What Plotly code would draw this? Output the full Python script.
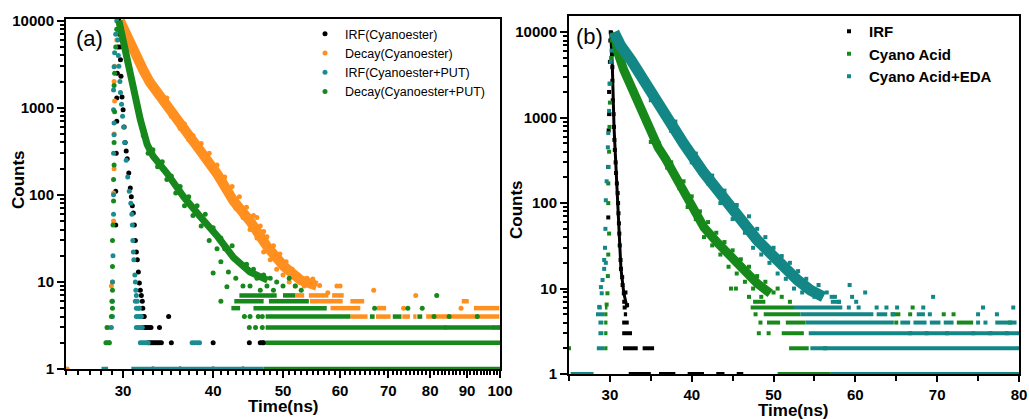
import math
import plotly.graph_objects as go

BLACK = "#000000"
ORANGE = "#ff8f1f"
TEAL_A = "#1b8d92"
GREEN_A = "#17881c"
GREEN_B = "#17891b"
TEAL_B = "#138686"

# ================= Panel (a) data (time ns, counts) =================
irf_a_pts = [
    (29.3, 45), (29.3, 110), (29.35, 300), (29.4, 700), (29.4, 1300), (29.45, 2500),
    (29.5, 5000), (29.55, 8000),
    (29.6, 10000), (29.65, 7000), (29.7, 5000), (29.75, 3560), (29.8, 2300), (29.9, 1330),
    (30.0, 950), (30.1, 600), (30.2, 400), (30.3, 320), (30.4, 260), (30.55, 178),
    (30.7, 120), (30.8, 95), (30.9, 75), (31.0, 62), (31.1, 45), (31.2, 30), (31.3, 22),
    (31.4, 18), (31.5, 13), (31.6, 9.7), (31.7, 8), (31.8, 7), (31.9, 6), (31.95, 5),
    (32.0, 4), (32.1, 4), (34.7, 4),
    (32.0, 3), (32.2, 3), (32.4, 3), (32.6, 3), (32.8, 3), (33.7, 3),
    (32.5, 2), (32.7, 2), (32.9, 2), (33.1, 2), (33.3, 2), (33.5, 2), (33.7, 2), (33.9, 2),
    (35.0, 2), (40.0, 2), (44.9, 2), (46.5, 2), (46.8, 2), (47.0, 2),
    (33.0, 1), (36.0, 1), (40.0, 1), (44.0, 1),
]
irf_a_bands = {}

orange_a_ribbon = [
    (29.7, 10000), (30.3, 7000), (31.0, 4300), (32.0, 2700), (32.7, 1950), (34.5, 1100),
    (36.4, 560), (38.4, 320), (40.6, 170), (42.7, 85), (45.0, 50), (47.6, 25),
    (50.2, 15), (52.9, 10.5), (55.7, 9),
]
orange_a_pts = [
    (28.7, 3), (28.9, 9), (29.0, 10), (29.1, 50), (29.1, 105), (29.15, 200), (29.15, 500),
    (29.2, 1200), (29.15, 2000), (29.2, 3000), (29.4, 6000),
    (31.5, 3900), (32.0, 2400), (32.5, 2300), (33.0, 1700), (33.5, 1600), (34.0, 1150),
    (34.5, 1300), (35.0, 800), (35.5, 850), (36.0, 580), (36.5, 650), (37.0, 430),
    (37.5, 480), (38.0, 330), (38.5, 390), (39.0, 250), (39.5, 300), (40.0, 190),
    (40.5, 220), (41.0, 140), (41.5, 160), (42.0, 100), (42.5, 125), (43.0, 70),
    (43.5, 95), (44.0, 55), (44.5, 72), (45.0, 40), (45.5, 58), (46.0, 32), (46.0, 55),
    (46.5, 44), (47.0, 22), (47.0, 38), (47.5, 33), (48.0, 18), (48.5, 26), (49.0, 14),
    (49.5, 21), (50.0, 12), (50.5, 17), (51.0, 10), (51.5, 14), (52.0, 9), (52.5, 12),
    (53.5, 9), (54.0, 11), (55.0, 10.8), (56.2, 9.1), (57.7, 7.5), (59.4, 9), (60.0, 9),
    (66.8, 8), (76.4, 7), (73.5, 5), (88.3, 5), (84.0, 3), (98.0, 3), (99.5, 3), (25.1, 1),
]
orange_a_bands = {
    4: [(62, 65.5), (67.3, 70.5), (73.2, 75), (75.8, 76.6), (79, 99.8)],
    5: [(58.2, 64), (67.5, 69.5), (92, 99.8)],
    6: [(54.5, 60.5), (62, 64.8), (88.5, 90.5)],
    7: [(52, 53.5), (54.3, 57.8), (58.5, 60.7)],
}

teal_a_pts = [
    (28.5, 2), (28.7, 2), (28.9, 3), (29.0, 4), (29.0, 6), (29.0, 10), (29.05, 20),
    (29.1, 60), (29.1, 100), (29.1, 300), (29.15, 490), (29.15, 670), (29.1, 950),
    (29.1, 1600), (29.15, 2960), (29.2, 4300), (29.3, 7000),
    (29.4, 10000), (29.45, 8000), (29.5, 6000), (29.55, 4000), (29.6, 3000), (29.7, 2000),
    (29.75, 1500), (29.85, 1100), (29.95, 800), (30.05, 600), (30.15, 400), (30.3, 250),
    (30.45, 160), (30.6, 110), (30.75, 80), (30.85, 60), (30.9, 45), (30.95, 30),
    (31.0, 22), (31.05, 18), (31.15, 12), (31.2, 10), (31.25, 8), (31.3, 7),
    (31.2, 6), (31.4, 6), (31.3, 5), (31.5, 5), (31.6, 5),
    (31.3, 4), (31.5, 4), (31.7, 4), (31.8, 4),
    (31.3, 3), (31.5, 3), (31.7, 3), (31.9, 3),
    (31.7, 2), (31.9, 2), (32.1, 2), (32.3, 2), (32.5, 2), (37.4, 2), (37.7, 2), (38.0, 2), (38.3, 2),
]
teal_a_bands = {1: [(28.0, 28.6), (30.8, 47.0)]}

green_a_ribbon = [
    (29.6, 10000), (30.0, 6000), (30.4, 3560), (31.0, 1490), (31.7, 730), (32.4, 380),
    (33.0, 280), (34.5, 178), (36.4, 95), (38.4, 56), (40.6, 33), (42.7, 19),
    (45.0, 13), (47.6, 10.5),
]
green_a_pts = [
    (28.4, 2), (28.5, 3), (28.7, 2), (28.9, 4), (29.0, 5), (28.95, 6), (29.0, 8),
    (29.0, 15), (29.0, 30), (29.05, 45), (29.1, 85), (29.1, 150), (29.15, 220),
    (29.15, 400), (29.2, 900), (29.15, 1800), (29.2, 2500), (29.3, 5000), (29.4, 8000),
    (32.0, 480), (32.5, 300), (33.0, 330), (33.5, 210), (34.0, 240), (34.5, 150),
    (35.0, 165), (35.5, 105), (36.0, 125), (36.5, 75), (37.0, 95), (37.5, 58), (38.0, 75),
    (38.5, 44), (39.0, 60), (39.5, 30), (40.0, 42), (40.0, 12.7), (40.5, 24), (41.0, 32),
    (41.0, 17), (41.5, 24), (41.8, 8.8), (42.0, 13), (42.5, 26), (43.0, 11), (43.5, 17),
    (44.0, 9), (44.5, 16), (45.0, 9), (45.5, 14), (46.0, 11), (46.5, 8), (47.0, 12),
    (47.5, 9), (48.0, 11), (48.5, 8), (49.0, 10), (50.0, 9), (51.0, 11), (52.0, 9),
    (53.0, 8), (81.7, 7), (67.0, 5), (74.5, 5), (78.0, 5), (41.0, 6),
    (44.2, 4), (45.0, 4), (46.2, 4), (46.8, 4), (81.0, 4), (85.0, 4), (93.0, 4),
    (44.9, 3), (45.8, 3), (46.8, 3),
]
green_a_bands = {
    1: [(47.0, 100)],
    2: [(47.3, 100)],
    3: [(47.3, 100)],
    4: [(47.3, 62), (66, 67), (71, 73), (76.8, 78)],
    5: [(42.4, 43.6), (45.5, 57.5)],
    6: [(42.8, 47), (47.8, 54.3)],
    7: [(43.5, 49), (50, 52)],
}

# ================= Panel (b) data =================
irf_b_ribbon = [
    (30.1, 10000), (30.3, 3900), (30.5, 780), (30.7, 300), (30.95, 131), (31.15, 44),
    (31.35, 17), (31.7, 8.8), (32.1, 6),
]
irf_b_pts = [
    (29.8, 68), (29.8, 265), (29.85, 710), (29.9, 1100), (29.9, 2000), (30.0, 4500),
    (30.05, 8000), (30.1, 10000),
    (30.15, 9800), (30.25, 5500), (30.3, 3900), (30.3, 2700), (30.35, 1600), (30.45, 1100),
    (30.5, 780), (30.55, 550), (30.6, 420), (30.7, 300), (30.75, 225), (30.85, 170),
    (30.95, 131), (31.0, 100), (31.05, 76), (31.1, 58), (31.15, 44), (31.2, 32),
    (31.3, 21.6), (31.35, 17), (31.5, 13.6), (31.55, 11), (31.7, 8.8), (31.75, 7),
    (31.9, 9), (32.1, 6.4), (31.8, 6),
]
irf_b_bands = {
    1: [(32.3, 35), (36, 38), (39.5, 41.5), (43, 44), (45.5, 46.3)],
    2: [(31.6, 33.4), (34.0, 35.4)],
    3: [(31.5, 32.7)],
    4: [(31.5, 32.3)],
    5: [(31.7, 32.1)],
}

green_b_ribbon = [
    (30.5, 10000), (31.0, 5650), (31.7, 3600), (32.6, 2280), (33.4, 1470), (34.6, 780),
    (35.9, 450), (36.8, 330), (38.3, 186), (39.9, 95), (41.5, 52), (43.2, 34),
    (44.8, 23), (46.3, 16.5), (48.0, 11.5), (49.6, 8.8),
]
green_b_pts = [
    (25.0, 2), (29.6, 6.5), (29.7, 8.8), (29.75, 14), (29.8, 25), (29.9, 44), (29.8, 100),
    (29.8, 170), (29.9, 400), (29.95, 780), (30.0, 1500), (30.05, 2500), (30.15, 5000),
    (30.2, 8000),
    (33.0, 2100), (34.0, 1200), (35.0, 520), (36.0, 500), (37.0, 260), (37.5, 300),
    (38.5, 150), (39.0, 180), (39.5, 90), (40.0, 120), (40.5, 65), (41.0, 80), (41.5, 40),
    (42.0, 60), (42.5, 32), (43.0, 45), (43.5, 25), (44.0, 35), (44.5, 18), (45.0, 28),
    (45.5, 15), (46.0, 22), (46.5, 12), (47.0, 18), (47.5, 10), (48.0, 14), (48.5, 8),
    (49.0, 12), (50.0, 9), (50.5, 10), (51.0, 8), (44.8, 10), (45.4, 10), (47.0, 8),
    (52.0, 7), (56.3, 2), (48.2, 3), (49.4, 3), (66.7, 3), (68.7, 3), (71.2, 3), (74.4, 3),
    (76.5, 3), (78.5, 3), (48.4, 4), (65.0, 4), (78.9, 4), (47.8, 5), (66.7, 5), (70.8, 5),
    (72.0, 5), (67.0, 6),
]
green_b_bands = {
    1: [(50.5, 57)],
    2: [(29.3, 29.7), (51.9, 54.3)],
    3: [(29.3, 29.7), (51.0, 53.7)],
    4: [(29.3, 29.7), (49.2, 50.8), (51.5, 53.9), (72.4, 74.4)],
    5: [(29.3, 29.7), (48.8, 53.3), (64.3, 65.5)],
    6: [(29.4, 29.7), (47.2, 52.5)],
    7: [(47.5, 49.0)],
}

teal_b_ribbon = [
    (30.5, 10000), (31.3, 7000), (32.6, 4700), (34.6, 2280), (36.6, 1120), (38.3, 660),
    (39.0, 500), (41.5, 225), (43.2, 142), (44.8, 90), (46.3, 55), (48.0, 37), (49.6, 26),
    (51.2, 18), (52.9, 12.6), (54.5, 9.6), (56.1, 8),
]
teal_b_pts = [
    (28.7, 6.1), (29.0, 8.8), (28.9, 10.4), (29.1, 12.6), (29.3, 17), (29.3, 21.6),
    (29.5, 20), (29.4, 30), (29.45, 50), (29.5, 108), (29.6, 180), (29.8, 265),
    (29.75, 450), (29.8, 660), (29.9, 1200), (29.95, 2500), (30.1, 4500), (30.2, 6100),
    (33.5, 3200), (35.0, 1600), (36.0, 1500), (37.5, 700), (38.0, 900), (40.0, 300),
    (40.5, 380), (42.0, 170), (42.5, 210), (43.5, 100), (44.0, 140), (45.0, 65),
    (45.5, 95), (46.5, 45), (47.0, 70), (47.5, 30), (48.0, 50), (48.5, 25), (49.0, 40),
    (49.5, 20), (50.0, 30), (50.5, 15), (51.0, 24), (51.5, 13), (52.0, 20), (52.5, 10),
    (53.0, 16), (53.5, 9), (54.0, 13), (55.0, 8), (55.5, 11), (56.5, 9), (57.5, 8),
    (58.0, 7), (59.3, 11), (61.2, 9), (57.1, 8), (59.6, 8), (69.5, 8), (60.1, 7),
    (75.0, 4), (75.9, 4), (64.6, 5), (69.1, 5), (75.0, 5), (77.3, 5),
    (59.2, 6), (60.4, 6), (62.6, 6), (63.8, 6), (65.1, 6), (68.3, 6), (75.6, 6), (79.3, 6),
]
teal_b_bands = {
    1: [(25.2, 28.0), (57, 80)],
    2: [(28.4, 29.3), (54.5, 80)],
    3: [(28.6, 29.2), (54.3, 80)],
    4: [(28.6, 29.2), (53.9, 64.7), (65.5, 66.7), (67.1, 68.7), (69.1, 70.4), (70.8, 72.0), (77.1, 79.7)],
    5: [(28.3, 29.3), (53.3, 62.2), (62.6, 63.9), (67.5, 68.5)],
    6: [(28.5, 29.0), (52.5, 58.4)],
    7: [(57.0, 58.2)],
}

fig = go.Figure()


def add_series(name, color, pts, ribbon, ribbon_w, bands, band_w, msize, symbol, xa, ya, leg):
    if ribbon:
        fig.add_trace(go.Scatter(
            x=[p[0] for p in ribbon], y=[p[1] for p in ribbon], mode="lines",
            line=dict(color=color, width=ribbon_w), showlegend=False, legendgroup=name,
            hoverinfo="skip", xaxis=xa, yaxis=ya))
    bx, by = [], []
    for level, segs in bands.items():
        for a, b in segs:
            bx += [a, b, None]
            by += [level, level, None]
    if bx:
        fig.add_trace(go.Scatter(
            x=bx, y=by, mode="lines", line=dict(color=color, width=band_w),
            showlegend=False, legendgroup=name, hoverinfo="skip", xaxis=xa, yaxis=ya))
    fig.add_trace(go.Scatter(
        x=[p[0] for p in pts], y=[p[1] for p in pts], mode="markers",
        marker=dict(color=color, size=msize, symbol=symbol, line=dict(width=0)),
        name=name, legendgroup=name, legend=leg, xaxis=xa, yaxis=ya))


add_series("IRF(Cyanoester)", BLACK, irf_a_pts, None, 0, irf_a_bands, 4.5, 5, "circle", "x", "y", "legend")
add_series("Decay(Cyanoester)", ORANGE, orange_a_pts, orange_a_ribbon, 10, orange_a_bands, 4.5, 5, "circle", "x", "y", "legend")
add_series("IRF(Cyanoester+PUT)", TEAL_A, teal_a_pts, None, 0, teal_a_bands, 4.5, 5, "circle", "x", "y", "legend")
add_series("Decay(Cyanoester+PUT)", GREEN_A, green_a_pts, green_a_ribbon, 7, green_a_bands, 4.5, 5, "circle", "x", "y", "legend")

add_series("IRF", BLACK, irf_b_pts, irf_b_ribbon, 3, irf_b_bands, 4, 4, "square", "x2", "y2", "legend2")
add_series("Cyano Acid", GREEN_B, green_b_pts, green_b_ribbon, 9, green_b_bands, 4, 4, "square", "x2", "y2", "legend2")
add_series("Cyano Acid+EDA", TEAL_B, teal_b_pts, teal_b_ribbon, 11, teal_b_bands, 4, 4, "square", "x2", "y2", "legend2")

TICKFONT = dict(family="Liberation Sans, Arial, sans-serif", size=15, color="black", weight="bold")
decade_minor = [m * 10 ** d for d in range(0, 4) for m in range(2, 10)]

common_axis = dict(showline=True, linewidth=2, linecolor="black", mirror=True, showgrid=False,
                   zeroline=False, ticks="outside", tickwidth=2, tickcolor="black",
                   tickfont=TICKFONT, automargin=False)

fig.update_layout(
    width=1029, height=419, margin=dict(l=0, r=0, t=0, b=0, autoexpand=False),
    paper_bgcolor="white", plot_bgcolor="white",
    xaxis=dict(domain=[66 / 1029, 500 / 1029], type="log", range=[math.log10(25), 2],
               tickmode="array", tickvals=[30, 40, 50, 60, 70, 80, 90, 100],
               ticktext=["30", "40", "50", "60", "70", "80", "90", "100"], ticklen=7,
               minor=dict(tickmode="array", tickvals=list(range(25, 101)), ticks="outside",
                          ticklen=4, tickwidth=1.5, tickcolor="black"),
               anchor="y", **common_axis),
    yaxis=dict(domain=[50 / 419, 400 / 419], type="log", range=[0, 4.02],
               tickmode="array", tickvals=[1, 10, 100, 1000, 10000],
               ticktext=["1", "10", "100", "1000", "10000"], ticklen=7,
               minor=dict(tickmode="array", tickvals=decade_minor, ticks="outside",
                          ticklen=4, tickwidth=1.5, tickcolor="black"),
               anchor="x", **common_axis),
    xaxis2=dict(domain=[569 / 1029, 1019 / 1029], range=[25, 80],
                tickmode="array", tickvals=[30, 40, 50, 60, 70, 80], ticklen=6,
                minor=dict(tickmode="array", tickvals=[25, 35, 45, 55, 65, 75], ticks="outside",
                           ticklen=5, tickwidth=1.5, tickcolor="black"),
                anchor="y2", **common_axis),
    yaxis2=dict(domain=[45 / 419, 403 / 419], type="log", range=[0, 4.19],
                tickmode="array", tickvals=[1, 10, 100, 1000, 10000],
                ticktext=["1", "10", "100", "1000", "10000"], ticklen=7,
                minor=dict(tickmode="array", tickvals=decade_minor, ticks="outside",
                           ticklen=4, tickwidth=1.5, tickcolor="black"),
                anchor="x2", **common_axis),
    legend=dict(x=305 / 1029, y=1 - 19 / 419, xanchor="left", yanchor="top",
                bgcolor="rgba(0,0,0,0)", tracegroupgap=0,
                font=dict(family="Liberation Sans, Arial, sans-serif", size=12.5, color="black")),
    legend2=dict(x=829 / 1029, y=1 - 15 / 419, xanchor="left", yanchor="top",
                 bgcolor="rgba(0,0,0,0)", tracegroupgap=0,
                 font=dict(family="Liberation Sans, Arial, sans-serif", size=15, color="black",
                           weight="bold")),
    showlegend=True,
)

TITLEFONT = dict(family="Liberation Sans, Arial, sans-serif", size=17, color="black", weight="bold")
ann = [
    dict(text="(a)", x=74 / 1029, y=1 - 38 / 419, xanchor="left", yanchor="middle",
         font=dict(family="Liberation Sans, Arial, sans-serif", size=22, color="black")),
    dict(text="(b)", x=574 / 1029, y=1 - 37 / 419, xanchor="left", yanchor="middle",
         font=dict(family="Liberation Sans, Arial, sans-serif", size=22, color="black")),
    dict(text="Counts", x=18 / 1029, y=1 - 180 / 419, textangle=-90, xanchor="center",
         yanchor="middle", font=TITLEFONT),
    dict(text="Time(ns)", x=283 / 1029, y=1 - 406 / 419, xanchor="center", yanchor="middle",
         font=dict(TITLEFONT, size=17)),
    dict(text="Counts", x=516 / 1029, y=1 - 210 / 419, textangle=-90, xanchor="center",
         yanchor="middle", font=TITLEFONT),
    dict(text="Time(ns)", x=793 / 1029, y=1 - 410 / 419, xanchor="center", yanchor="middle",
         font=dict(TITLEFONT, size=17)),
]
for a in ann:
    a.update(xref="paper", yref="paper", showarrow=False)
fig.update_layout(annotations=ann)

fig.write_html("out.html")
